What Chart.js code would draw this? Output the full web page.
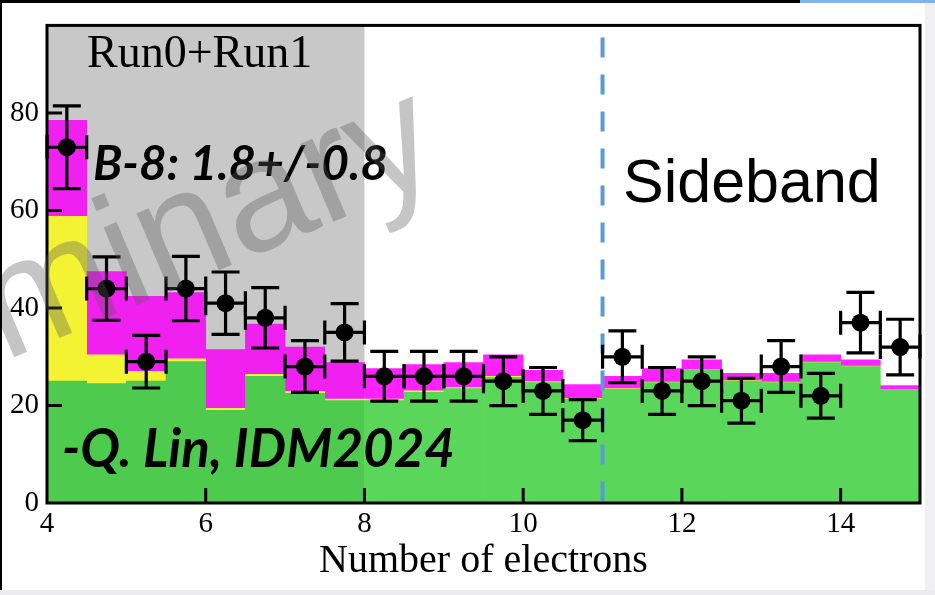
<!doctype html>
<html lang="en">
<head>
<meta charset="UTF-8">
<title>Number of electrons</title>
<style>
  html, body { margin: 0; padding: 0; background: #fff; }
  #wrap { position: relative; width: 935px; height: 595px; overflow: hidden; }
  .edge { position: absolute; }
</style>
</head>
<body>
<div id="wrap">
  <canvas id="myChart" width="935" height="595"></canvas>
  <!-- bits of the screen around the slide -->
  <div class="edge" style="left:0;top:0;width:800px;height:3px;background:#000"></div>
  <div class="edge" style="left:800px;top:0;width:135px;height:3px;background:#7fb2ef"></div>
  <div class="edge" style="left:0;top:0;width:2px;height:590px;background:#000"></div>
  <div class="edge" style="left:925px;top:3px;width:10px;height:592px;background:#f0f0f3"></div>
  <div class="edge" style="left:0;top:590px;width:935px;height:5px;background:#ececef"></div>
</div>
<script src="https://cdn.jsdelivr.net/npm/chart.js@4.4.1/dist/chart.umd.min.js"></script>
<script>
// Data-----
const binCenters = [4.25, 4.75, 5.25, 5.75, 6.25, 6.75, 7.25, 7.75, 8.25, 8.75, 9.25,
                    9.75, 10.25, 10.75, 11.25, 11.75, 12.25, 12.75, 13.25, 13.75, 14.25, 14.75];
// stacked histogram components
const background = [25, 24.5, 25, 29, 19, 26, 22.5, 21, 21, 22.7, 23.5,
                    25.8, 24.7, 21.3, 23.4, 24.7, 27.2, 25, 24.7, 28.8, 28, 23.1];
const boron8 = [33.8, 5.9, 2, 0.6, 0.4, 0.4, 0.4, 0.3, 0.3, 0.3, 0.2,
                0.2, 0.2, 0.2, 0.1, 0.1, 0.1, 0.1, 0.1, 0.1, 0.1, 0.1];
const other = [19.7, 17.1, 15.4, 13.6, 12.1, 10.3, 9.1, 7.5, 6.3, 5.4, 5.1,
               4.4, 2.3, 2.8, 2.5, 2.8, 2.1, 1.5, 1.8, 1.5, 1.3, 0.9];
// observed counts
const counts = [73, 44, 29, 44, 41, 38, 28, 35, 26, 26, 26,
                25, 23, 17, 30, 23, 25, 21, 28, 22, 37, 32];
const countErr = [8.5, 6.5, 5.4, 6.6, 6.4, 6.2, 5.3, 5.9, 5.1, 5.1, 5.1,
                  5.0, 4.8, 4.2, 5.3, 4.8, 5.0, 4.6, 5.3, 4.6, 6.2, 5.7];
const binHalf = 0.25;
const xTicks = [4, 6, 8, 10, 12, 14];
const yTicks = [0, 20, 40, 60, 80];
const runRegion = [4, 8];
const sidebandStart = 11;
// Data-----

const serif = '"Liberation Serif", "Times New Roman", serif';
const inRun = (ctx) => ctx.raw && ctx.raw.x < runRegion[1];

function fitFont(ctx, text, style, family, width) {
  ctx.font = `${style} 40px ${family}`;
  return 40 * width / ctx.measureText(text).width;
}

const decor = {
  id: 'decor',
  beforeDatasetsDraw(chart) {
    const {ctx, chartArea: a, scales: {x}} = chart;
    const x0 = x.getPixelForValue(runRegion[0]);
    const x1 = x.getPixelForValue(runRegion[1]);
    ctx.save();
    ctx.fillStyle = '#c8c8c8';
    ctx.fillRect(x0, a.top, x1 - x0, a.bottom - a.top);
    ctx.restore();
  },
  afterDatasetsDraw(chart) {
    const {ctx, chartArea: a, scales: {x, y}} = chart;
    ctx.save();
    // sideband divider
    const xs = x.getPixelForValue(sidebandStart);
    ctx.strokeStyle = '#5b9bd5';
    ctx.lineWidth = 4;
    ctx.setLineDash([20, 17]);
    ctx.beginPath();
    ctx.moveTo(xs, a.top + 12);
    ctx.lineTo(xs, a.bottom - 2);
    ctx.stroke();
    ctx.setLineDash([]);

    // error bars
    ctx.strokeStyle = '#000';
    ctx.lineWidth = 3.2;
    binCenters.forEach((c, i) => {
      const px = x.getPixelForValue(c);
      const py = y.getPixelForValue(counts[i]);
      const pl = x.getPixelForValue(c - binHalf);
      const pr = x.getPixelForValue(c + binHalf);
      const pt = y.getPixelForValue(counts[i] + countErr[i]);
      const pb = y.getPixelForValue(counts[i] - countErr[i]);
      ctx.beginPath();
      ctx.moveTo(pl, py); ctx.lineTo(pr, py);
      ctx.moveTo(pl, py - 12); ctx.lineTo(pl, py + 12);
      ctx.moveTo(pr, py - 12); ctx.lineTo(pr, py + 12);
      ctx.moveTo(px, pt); ctx.lineTo(px, pb);
      ctx.moveTo(px - 14, pt); ctx.lineTo(px + 14, pt);
      ctx.moveTo(px - 14, pb); ctx.lineTo(px + 14, pb);
      ctx.stroke();
    });
    ctx.restore();
  },
  afterDraw(chart) {
    const {ctx, chartArea: a, scales: {x, y}} = chart;
    ctx.save();
    // frame + inward ticks
    ctx.strokeStyle = '#000';
    ctx.lineWidth = 3;
    ctx.strokeRect(a.left, a.top, a.right - a.left, a.bottom - a.top);
    ctx.beginPath();
    xTicks.slice(1).forEach(v => {
      const px = x.getPixelForValue(v);
      ctx.moveTo(px, a.bottom); ctx.lineTo(px, a.bottom - 15);
    });
    yTicks.slice(1).forEach(v => {
      const py = y.getPixelForValue(v);
      ctx.moveTo(a.left, py); ctx.lineTo(a.left + 15, py);
    });
    ctx.stroke();

    // labels
    ctx.fillStyle = '#000';
    ctx.textBaseline = 'alphabetic';
    ctx.textAlign = 'left';
    ctx.font = `46px ${serif}`;
    ctx.fillText('Run0+Run1', 87, 67);

    ctx.font = `61px "Liberation Sans", Arial, sans-serif`;
    ctx.fillText('Sideband', 623, 202);

    const ital = 'Lato, "Open Sans", sans-serif';
    let t = 'B-8: 1.8+/-0.8';
    let s = fitFont(ctx, t, 'italic bold', ital, 295);
    ctx.font = `italic bold ${s}px ${ital}`;
    ctx.fillText(t, 93, 180);

    t = '-Q. Lin, IDM2024';
    s = fitFont(ctx, t, 'italic bold', ital, 393);
    ctx.font = `italic bold ${s}px ${ital}`;
    ctx.fillText(t, 62, 467);

    // watermark
    ctx.translate(446, 174);
    ctx.rotate(-23 * Math.PI / 180);
    ctx.font = `160px "Liberation Sans", Arial, sans-serif`;
    ctx.textAlign = 'right';
    ctx.fillStyle = 'rgba(90, 90, 90, 0.35)';
    ctx.fillText('Preliminary', 0, 0);
    ctx.restore();
  }
};

const config = {
  type: 'bar',
  data: {
    datasets: [
      {
        type: 'line',
        label: 'Data',
        data: binCenters.map((c, i) => ({x: c, y: counts[i]})),
        showLine: false,
        pointRadius: 9,
        pointBackgroundColor: '#000',
        pointBorderWidth: 0,
        order: 0
      },
      {
        label: 'Background',
        data: binCenters.map((c, i) => ({x: c, y: background[i]})),
        backgroundColor: (ctx) => inRun(ctx) ? '#4ecb4e' : '#5ad65a',
        order: 1
      },
      {
        label: 'B-8',
        data: binCenters.map((c, i) => ({x: c, y: boron8[i]})),
        backgroundColor: '#f3f333',
        order: 1
      },
      {
        label: 'Other',
        data: binCenters.map((c, i) => ({x: c, y: other[i]})),
        backgroundColor: (ctx) => inRun(ctx) ? '#f020f0' : '#ff22ff',
        order: 1
      }
    ]
  },
  options: {
    responsive: false,
    animation: false,
    datasets: {
      bar: {barPercentage: 1, categoryPercentage: 1, borderWidth: 0, grouped: false}
    },
    layout: {padding: {top: 16, right: 15, left: 0, bottom: 0}},
    plugins: {legend: {display: false}, tooltip: {enabled: false}},
    scales: {
      x: {
        type: 'linear',
        min: 4, max: 15,
        offset: false,
        grid: {display: false, drawTicks: false, offset: false},
        border: {display: false},
        afterBuildTicks: (scale) => { scale.ticks = xTicks.map(v => ({value: v})); },
        afterFit: (scale) => { scale.height = 92; },
        ticks: {color: '#000', padding: 4, maxRotation: 0, font: {family: serif, size: 29}},
        title: {
          display: true, text: 'Number of electrons', color: '#000',
          font: {family: serif, size: 40, lineHeight: 1}, padding: {top: 0, bottom: 14}
        }
      },
      y: {
        min: 0, max: 98,
        stacked: true,
        grid: {display: false, drawTicks: false},
        border: {display: false},
        afterBuildTicks: (scale) => { scale.ticks = yTicks.map(v => ({value: v})); },
        afterFit: (scale) => { scale.width = 47; },
        ticks: {color: '#000', padding: 8, font: {family: serif, size: 29}}
      }
    }
  },
  plugins: [decor]
};

const myChart = new Chart(document.getElementById('myChart'), config);
</script>
</body>
</html>
